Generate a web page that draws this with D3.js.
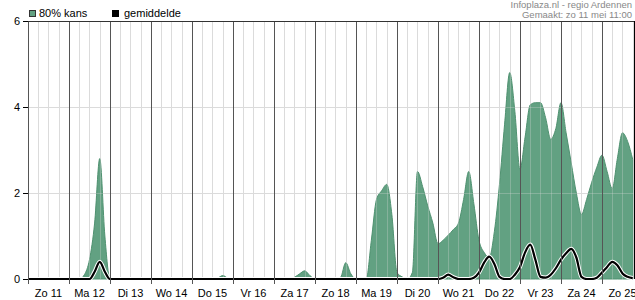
<!DOCTYPE html>
<html>
<head>
<meta charset="utf-8">
<script src="https://cdn.jsdelivr.net/npm/d3@7"></script>
<style>
body { margin: 0; background: #fff; }
svg text { font-family: Arial, "Liberation Sans", sans-serif; font-size: 11px; fill: #000; }
</style>
</head>
<body>
<div id="chart"></div>
<script>
// dagen op de x-as (elke dag 24 uur)
var dagen = ["Zo 11", "Ma 12", "Di 13", "Wo 14", "Do 15", "Vr 16", "Za 17", "Zo 18",
             "Ma 19", "Di 20", "Wo 21", "Do 22", "Vr 23", "Za 24", "Zo 25"];
var stapUren = 3;   // waarden per 3 uur, vanaf zo 11 00:00
var eindUur = 354.75;
var yTicks = [0, 2, 4, 6];

var kans80 = [
  0, 0, 0, 0, 0, 0, 0, 0, 0, 0, 0, 0.1, 0.45, 1.3, 2.8, 1.0, 0,
  0, 0, 0, 0, 0, 0, 0, 0, 0, 0, 0, 0, 0, 0, 0, 0, 0, 0, 0, 0,
  0.02, 0.08, 0.02,
  0, 0, 0, 0, 0, 0, 0, 0, 0, 0, 0, 0,
  0.04, 0.12, 0.19, 0.08, 0,
  0, 0, 0, 0,
  0.04, 0.38, 0.12,
  0, 0, 0,
  0.9, 1.85, 2.05, 2.2, 1.5, 0.15, 0.05, 0,
  0.15, 2.5, 2.15, 1.7, 1.3, 0.82, 0.9, 1.02, 1.15, 1.3, 1.85, 2.5, 1.75, 0.9, 0.62, 0.5,
  1.1, 2.2, 3.6, 4.8, 3.9, 2.55, 3.3, 4.05, 4.1, 4.1, 3.75, 3.25, 3.5, 4.1, 3.4, 2.7,
  2.0, 1.5, 1.85, 2.25, 2.6, 2.88, 2.5, 2.1, 2.8, 3.4, 3.2, 2.78
];

var gemiddelde = [
  0, 0, 0, 0, 0, 0, 0, 0, 0, 0, 0, 0, 0, 0.17, 0.4, 0.17,
  0, 0, 0, 0, 0, 0, 0, 0, 0, 0, 0, 0, 0, 0, 0, 0, 0, 0, 0, 0,
  0, 0, 0, 0, 0, 0, 0, 0, 0, 0, 0, 0, 0, 0, 0, 0, 0, 0, 0, 0,
  0, 0, 0, 0, 0, 0, 0, 0, 0, 0, 0, 0, 0, 0, 0, 0, 0, 0, 0, 0,
  0, 0, 0, 0, 0,
  0.03, 0.1, 0.04, 0, 0, 0,
  0.03, 0.15, 0.38, 0.52, 0.35, 0.05, 0, 0,
  0.1, 0.28, 0.62, 0.8, 0.45, 0.05,
  0.03, 0.1, 0.25, 0.45, 0.6, 0.7, 0.5, 0.05, 0, 0,
  0.03, 0.15, 0.28, 0.4, 0.32, 0.13, 0.05, 0.02,
  0.1, 0.45, 0.85, 1.22
];

var width = 635, height = 300;
var pLeft = 28, pRight = 634, pTop = 21, pBottom = 279;
var groen = "#62a182";

var x = d3.scaleLinear().domain([0, eindUur]).range([pLeft, pRight]);
var y = d3.scaleLinear().domain([0, 6]).range([pBottom, pTop]);

var svg = d3.select("#chart").append("svg")
    .attr("width", width)
    .attr("height", height);

svg.append("defs").append("clipPath").attr("id", "plot")
  .append("rect")
    .attr("x", pLeft).attr("y", pTop)
    .attr("width", pRight - pLeft).attr("height", pBottom - pTop + 1);

var zesUur = d3.range(0, eindUur, 6);
var dagGrens = d3.range(0, dagen.length).map(function(d) { return d * 24; });

function grid(g, opacity) {
    g.selectAll("line.v")
        .data(zesUur.filter(function(d) { return d % 24 != 0; }))
        .enter().append("line")
        .attr("class", "v")
        .attr("x1", function(d) { return Math.round(x(d)) + 0.5; })
        .attr("x2", function(d) { return Math.round(x(d)) + 0.5; })
        .attr("y1", pTop).attr("y2", pBottom)
        .attr("stroke", "#dcdcdc")
        .attr("stroke-opacity", opacity);
    g.selectAll("line.h")
        .data([2, 4])
        .enter().append("line")
        .attr("class", "h")
        .attr("x1", pLeft).attr("x2", pRight)
        .attr("y1", function(d) { return Math.round(y(d)) + 0.5; })
        .attr("y2", function(d) { return Math.round(y(d)) + 0.5; })
        .attr("stroke", "#dcdcdc")
        .attr("stroke-opacity", opacity);
}

grid(svg.append("g"), 1);

var punten = kans80.map(function(v, i) {
    return { t: i * stapUren, k: v, g: gemiddelde[i] };
});

var plot = svg.append("g").attr("clip-path", "url(#plot)");

var area = d3.area()
    .x(function(d) { return x(d.t); })
    .y0(y(0))
    .y1(function(d) { return y(d.k); })
    .curve(d3.curveMonotoneX);

plot.append("path")
    .datum(punten)
    .attr("d", area)
    .attr("fill", groen)
    .attr("stroke", "#4f9170")
    .attr("stroke-width", 1);

// lichte rasterlijnen schemeren door het vlak
grid(plot.append("g"), 0.3);

// daggrenzen
svg.append("g").selectAll("line")
    .data(dagGrens)
    .enter().append("line")
    .attr("x1", function(d) { return Math.round(x(d)) + 0.5; })
    .attr("x2", function(d) { return Math.round(x(d)) + 0.5; })
    .attr("y1", pTop).attr("y2", pBottom + 5)
    .attr("stroke", "#555");

var line = d3.line()
    .x(function(d) { return x(d.t); })
    .y(function(d) { return y(d.g); })
    .curve(d3.curveMonotoneX);

plot.append("path")
    .datum(punten)
    .attr("d", line)
    .attr("fill", "none")
    .attr("stroke", "#fff")
    .attr("stroke-width", 4.2);

plot.append("path")
    .datum(punten)
    .attr("d", line)
    .attr("fill", "none")
    .attr("stroke", "#000")
    .attr("stroke-width", 2.2);

// rand boven en rechts
svg.append("line")
    .attr("x1", pLeft).attr("x2", pRight + 0.5)
    .attr("y1", pTop + 0.5).attr("y2", pTop + 0.5)
    .attr("stroke", "#333");
svg.append("line")
    .attr("x1", pRight + 0.5).attr("x2", pRight + 0.5)
    .attr("y1", pTop).attr("y2", pBottom)
    .attr("stroke", "#000");

// y-as
var yAxis = svg.append("g");
yAxis.selectAll("line")
    .data(yTicks)
    .enter().append("line")
    .attr("x1", pLeft - 5).attr("x2", pLeft)
    .attr("y1", function(d) { return Math.round(y(d)) + 0.5; })
    .attr("y2", function(d) { return Math.round(y(d)) + 0.5; })
    .attr("stroke", "#000");
yAxis.selectAll("text")
    .data(yTicks)
    .enter().append("text")
    .attr("x", pLeft - 8)
    .attr("y", function(d) { return y(d); })
    .attr("dy", ".35em")
    .attr("text-anchor", "end")
    .text(function(d) { return d; });

// x-as labels
svg.append("g").selectAll("text")
    .data(dagen)
    .enter().append("text")
    .attr("x", function(d, i) { return x(i * 24 + 12); })
    .attr("y", 297)
    .attr("text-anchor", "middle")
    .text(function(d) { return d; });

// legenda
svg.append("rect")
    .attr("x", 29.5).attr("y", 10.5).attr("width", 6).attr("height", 6)
    .attr("fill", groen).attr("stroke", "#333");
svg.append("text").attr("x", 39).attr("y", 17).text("80% kans");
svg.append("rect")
    .attr("x", 112.5).attr("y", 10.5).attr("width", 6).attr("height", 6)
    .attr("fill", "#000").attr("stroke", "#000");
svg.append("text").attr("x", 124).attr("y", 17).text("gemiddelde");

// bron
svg.append("text")
    .attr("x", 632).attr("y", 8)
    .attr("text-anchor", "end")
    .style("font-size", "9.5px").style("fill", "#888")
    .text("Infoplaza.nl - regio Ardennen");
svg.append("text")
    .attr("x", 632).attr("y", 18)
    .attr("text-anchor", "end")
    .style("font-size", "9.5px").style("fill", "#888")
    .text("Gemaakt: zo 11 mei 11:00");
</script>
</body>
</html>
